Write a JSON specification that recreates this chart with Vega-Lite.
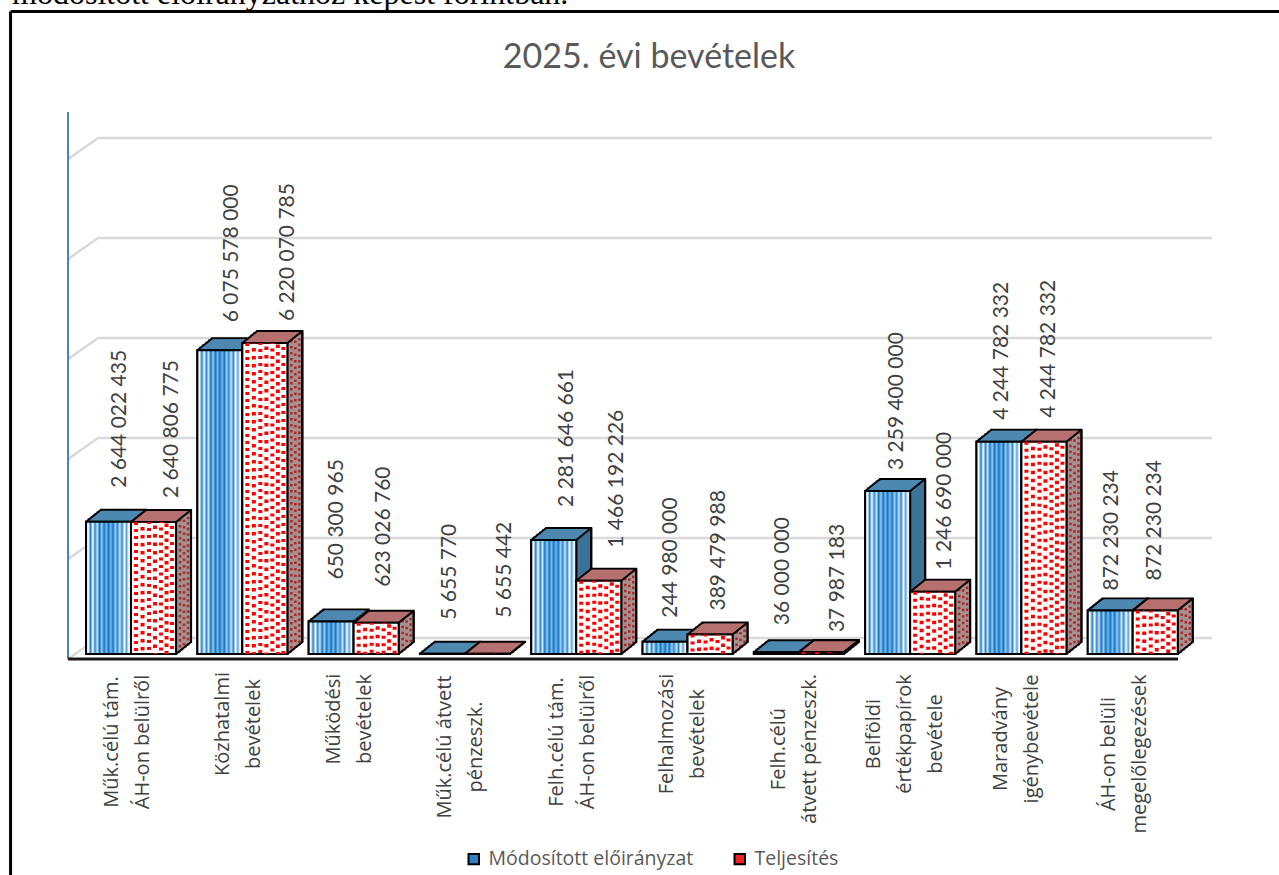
{"$schema":"https://vega.github.io/schema/vega-lite/v6.json","autosize":{"type":"none"},"padding":{"left":68,"top":112,"right":67,"bottom":221},"width":1144,"height":542,"background":"white","config":{"view":{"stroke":null},"legend":{"orient":"none","legendX":396,"legendY":737,"direction":"horizontal","title":null,"symbolType":"square","symbolSize":110,"symbolStrokeColor":"black","symbolStrokeWidth":2,"labelFont":"Open Sans","labelFontSize":19.5,"labelColor":"#595959","labelLimit":400,"columnPadding":36,"labelOffset":5}},
"data":{"values":[
{"k":1,"cat":"Műk.célú tám.|ÁH-on belülről","series":"Módosított előirányzat","value":2644022435,"label":"2 644 022 435"},
{"k":2,"cat":"Közhatalmi|bevételek","series":"Módosított előirányzat","value":6075578000,"label":"6 075 578 000"},
{"k":3,"cat":"Működési|bevételek","series":"Módosított előirányzat","value":650300965,"label":"650 300 965"},
{"k":4,"cat":"Műk.célú átvett|pénzeszk.","series":"Módosított előirányzat","value":5655770,"label":"5 655 770"},
{"k":5,"cat":"Felh.célú tám.|ÁH-on belülről","series":"Módosított előirányzat","value":2281646661,"label":"2 281 646 661"},
{"k":6,"cat":"Felhalmozási|bevételek","series":"Módosított előirányzat","value":244980000,"label":"244 980 000"},
{"k":7,"cat":"Felh.célú|átvett pénzeszk.","series":"Módosított előirányzat","value":36000000,"label":"36 000 000"},
{"k":8,"cat":"Belföldi|értékpapírok|bevétele","series":"Módosított előirányzat","value":3259400000,"label":"3 259 400 000"},
{"k":9,"cat":"Maradvány|igénybevétele","series":"Módosított előirányzat","value":4244782332,"label":"4 244 782 332"},
{"k":10,"cat":"ÁH-on belüli|megelőlegezések","series":"Módosított előirányzat","value":872230234,"label":"872 230 234"},
{"k":1,"cat":"Műk.célú tám.|ÁH-on belülről","series":"Teljesítés","value":2640806775,"label":"2 640 806 775"},
{"k":2,"cat":"Közhatalmi|bevételek","series":"Teljesítés","value":6220070785,"label":"6 220 070 785"},
{"k":3,"cat":"Működési|bevételek","series":"Teljesítés","value":623026760,"label":"623 026 760"},
{"k":4,"cat":"Műk.célú átvett|pénzeszk.","series":"Teljesítés","value":5655442,"label":"5 655 442"},
{"k":5,"cat":"Felh.célú tám.|ÁH-on belülről","series":"Teljesítés","value":1466192226,"label":"1 466 192 226"},
{"k":6,"cat":"Felhalmozási|bevételek","series":"Teljesítés","value":389479988,"label":"389 479 988"},
{"k":7,"cat":"Felh.célú|átvett pénzeszk.","series":"Teljesítés","value":37987183,"label":"37 987 183"},
{"k":8,"cat":"Belföldi|értékpapírok|bevétele","series":"Teljesítés","value":1246690000,"label":"1 246 690 000"},
{"k":9,"cat":"Maradvány|igénybevétele","series":"Teljesítés","value":4244782332,"label":"4 244 782 332"},
{"k":10,"cat":"ÁH-on belüli|megelőlegezések","series":"Teljesítés","value":872230234,"label":"872 230 234"}
]},
"encoding":{"x":{"field":"cat","type":"nominal","axis":null,"scale":{"domain":["Műk.célú tám.|ÁH-on belülről","Közhatalmi|bevételek","Működési|bevételek","Műk.célú átvett|pénzeszk.","Felh.célú tám.|ÁH-on belülről","Felhalmozási|bevételek","Felh.célú|átvett pénzeszk.","Belföldi|értékpapírok|bevétele","Maradvány|igénybevétele","ÁH-on belüli|megelőlegezések"],"range":[7.4,1120.4],"paddingInner":0,"paddingOuter":0}},"y":{"field":"value","type":"quantitative","axis":null,"scale":{"domain":[0,10840000000],"nice":false,"zero":true}}},
"layer":[
{"data":{"values":[{"level":0},{"level":2000000000},{"level":4000000000},{"level":6000000000},{"level":8000000000},{"level":10000000000}]},"layer":[
{"mark":{"type":"rule","stroke":"#d9d9d9","strokeWidth":2.5,"xOffset":-33,"x2Offset":79.3,"yOffset":-16},"encoding":{"x":{"datum":"Műk.célú tám.|ÁH-on belülről"},"x2":{"datum":"ÁH-on belüli|megelőlegezések"},"y":{"field":"level","type":"quantitative"}}},
{"mark":{"type":"rule","stroke":"#d9d9d9","strokeWidth":2.5,"xOffset":-63,"x2Offset":-33,"yOffset":5,"y2Offset":-16},"encoding":{"x":{"datum":"Műk.célú tám.|ÁH-on belülről"},"x2":{"datum":"Műk.célú tám.|ÁH-on belülről"},"y":{"field":"level","type":"quantitative"},"y2":{"field":"level"}}}
]},
{"transform":[{"filter":"datum.k==1 && datum.series=='Teljesítés'"}],"layer":[
{"mark":{"type":"rule","stroke":"#4a7ebb","strokeWidth":2,"xOffset":-63,"y2Offset":5},"encoding":{"y":{"datum":10840000000},"y2":{"datum":0}}},
{"mark":{"type":"rule","stroke":"#1a1a1a","strokeWidth":3,"xOffset":-63,"x2Offset":45.3,"yOffset":5},"encoding":{"x2":{"datum":"ÁH-on belüli|megelőlegezések"},"y":{"datum":0}}},
{"mark":{"type":"rule","stroke":"black","strokeWidth":3,"xOffset":-120.5,"yOffset":-100.5,"y2Offset":221},"encoding":{"y":{"datum":10840000000},"y2":{"datum":0}}},
{"mark":{"type":"rule","stroke":"black","strokeWidth":3,"xOffset":-120.5,"x2Offset":200,"yOffset":-100.5},"encoding":{"x2":{"datum":"ÁH-on belüli|megelőlegezések"},"y":{"datum":10840000000}}},
{"mark":{"type":"text","text":"módosított előirányzathoz képest forintban.","font":"Liberation Serif","fontSize":32,"color":"black","align":"left","baseline":"alphabetic","xOffset":-119,"yOffset":-108},"encoding":{"y":{"datum":10840000000}}},
{"mark":{"type":"text","text":"2025. évi bevételek","font":"Lato","fontSize":34,"color":"#595959","align":"center","baseline":"alphabetic","xOffset":518,"yOffset":-44},"encoding":{"y":{"datum":10840000000}}}
]},
{"transform":[{"filter":"datum.series=='Módosított előirányzat'"}],"layer":[
{"mark":{"type":"bar","width":45,"fill":"#4d88b0","stroke":"black","strokeWidth":2,"xOffset":-7.5,"yOffset":-12,"y2Offset":-12}},
{"mark":{"type":"bar","width":45,"fill":"#4d88b0","stroke":"#4d88b0","strokeWidth":2.6,"xOffset":-10.5,"yOffset":-9.6,"y2Offset":-9.6}},
{"mark":{"type":"bar","width":45,"fill":"#4d88b0","stroke":"#4d88b0","strokeWidth":2.6,"xOffset":-13.5,"yOffset":-7.2,"y2Offset":-7.2}},
{"mark":{"type":"bar","width":45,"fill":"#4d88b0","stroke":"#4d88b0","strokeWidth":2.6,"xOffset":-16.5,"yOffset":-4.8,"y2Offset":-4.8}},
{"mark":{"type":"bar","width":45,"fill":"#4d88b0","stroke":"#4d88b0","strokeWidth":2.6,"xOffset":-19.5,"yOffset":-2.4,"y2Offset":-2.4}},
{"mark":{"type":"rule","stroke":"#3a7397","strokeWidth":3.5,"xOffset":3,"yOffset":-2.4,"y2Offset":-2.4},"encoding":{"y2":{"datum":0}}},
{"mark":{"type":"rule","stroke":"#3a7397","strokeWidth":3.5,"xOffset":6,"yOffset":-4.8,"y2Offset":-4.8},"encoding":{"y2":{"datum":0}}},
{"mark":{"type":"rule","stroke":"#3a7397","strokeWidth":3.5,"xOffset":9,"yOffset":-7.2,"y2Offset":-7.2},"encoding":{"y2":{"datum":0}}},
{"mark":{"type":"rule","stroke":"#3a7397","strokeWidth":3.5,"xOffset":12,"yOffset":-9.6,"y2Offset":-9.6},"encoding":{"y2":{"datum":0}}},
{"mark":{"type":"rule","stroke":"black","strokeWidth":2,"xOffset":15,"yOffset":-12,"y2Offset":-12},"encoding":{"y2":{"datum":0}}},
{"mark":{"type":"bar","width":45,"stroke":"black","strokeWidth":2,"xOffset":-22.5},"encoding":{"color":{"field":"series","type":"nominal","scale":{"domain":["Módosított előirányzat","Teljesítés"],"range":["#2f80c8","#ee2222"]}}}},
{"mark":{"type":"bar","width":45,"stroke":"black","strokeWidth":2,"xOffset":-22.5,"fill":{"gradient":"linear","x1":0,"x2":1,"y1":0,"y2":0,"stops":[{"offset":0,"color":"#d5e8f7"},{"offset":0.05,"color":"#ffffff"},{"offset":0.1,"color":"#1a7fcf"},{"offset":0.15,"color":"#ffffff"},{"offset":0.2,"color":"#2b88d3"},{"offset":0.25,"color":"#cfe5f6"},{"offset":0.3,"color":"#0f75c7"},{"offset":0.35,"color":"#9fccee"},{"offset":0.4,"color":"#0f75c7"},{"offset":0.45,"color":"#7db9e8"},{"offset":0.5,"color":"#0f75c7"},{"offset":0.55,"color":"#7db9e8"},{"offset":0.6,"color":"#0f75c7"},{"offset":0.65,"color":"#9fccee"},{"offset":0.7,"color":"#2b88d3"},{"offset":0.75,"color":"#cfe5f6"},{"offset":0.8,"color":"#2b88d3"},{"offset":0.85,"color":"#ffffff"},{"offset":0.9,"color":"#5aa6e0"},{"offset":0.95,"color":"#ffffff"},{"offset":1,"color":"#a9d2f0"}]}}},
{"mark":{"type":"rule","stroke":"black","strokeWidth":2,"xOffset":-45,"x2Offset":-30,"y2Offset":-12},"encoding":{"x2":{"field":"cat"},"y2":{"field":"value"}}},
{"mark":{"type":"rule","stroke":"black","strokeWidth":2,"xOffset":0,"x2Offset":15,"y2Offset":-12},"encoding":{"x2":{"field":"cat"},"y2":{"field":"value"}}},
{"mark":{"type":"rule","stroke":"black","strokeWidth":2,"xOffset":0,"x2Offset":15,"y2Offset":-12},"encoding":{"x2":{"field":"cat"},"y":{"datum":0},"y2":{"datum":0}}}
]},
{"transform":[{"filter":"datum.series=='Teljesítés'"}],"layer":[
{"mark":{"type":"bar","width":45,"fill":"#b5706f","stroke":"black","strokeWidth":2,"xOffset":37.5,"yOffset":-12,"y2Offset":-12}},
{"mark":{"type":"bar","width":45,"fill":"#b5706f","stroke":"#b5706f","strokeWidth":2.6,"xOffset":34.5,"yOffset":-9.6,"y2Offset":-9.6}},
{"mark":{"type":"bar","width":45,"fill":"#b5706f","stroke":"#b5706f","strokeWidth":2.6,"xOffset":31.5,"yOffset":-7.2,"y2Offset":-7.2}},
{"mark":{"type":"bar","width":45,"fill":"#b5706f","stroke":"#b5706f","strokeWidth":2.6,"xOffset":28.5,"yOffset":-4.8,"y2Offset":-4.8}},
{"mark":{"type":"bar","width":45,"fill":"#b5706f","stroke":"#b5706f","strokeWidth":2.6,"xOffset":25.5,"yOffset":-2.4,"y2Offset":-2.4}},
{"mark":{"type":"rule","stroke":"#a89090","strokeWidth":3.5,"xOffset":48,"yOffset":-2.4,"y2Offset":-2.4},"encoding":{"y2":{"datum":0}}},
{"mark":{"type":"rule","stroke":"#a89090","strokeWidth":3.5,"xOffset":51,"yOffset":-4.8,"y2Offset":-4.8},"encoding":{"y2":{"datum":0}}},
{"mark":{"type":"rule","stroke":"#a89090","strokeWidth":3.5,"xOffset":54,"yOffset":-7.2,"y2Offset":-7.2},"encoding":{"y2":{"datum":0}}},
{"mark":{"type":"rule","stroke":"#a89090","strokeWidth":3.5,"xOffset":57,"yOffset":-9.6,"y2Offset":-9.6},"encoding":{"y2":{"datum":0}}},
{"mark":{"type":"rule","stroke":"#a52a2a","strokeWidth":2.5,"strokeDash":[2.5,3.5],"xOffset":49,"yOffset":-3,"y2Offset":-3},"encoding":{"y2":{"datum":0}}},
{"mark":{"type":"rule","stroke":"#a52a2a","strokeWidth":2.5,"strokeDash":[2.5,4],"strokeDashOffset":3,"xOffset":53,"yOffset":-6,"y2Offset":-6},"encoding":{"y2":{"datum":0}}},
{"mark":{"type":"rule","stroke":"#a52a2a","strokeWidth":2.5,"strokeDash":[2.5,3],"strokeDashOffset":1,"xOffset":57,"yOffset":-9.6,"y2Offset":-9.6},"encoding":{"y2":{"datum":0}}},
{"mark":{"type":"rule","stroke":"black","strokeWidth":2,"xOffset":60,"yOffset":-12,"y2Offset":-12},"encoding":{"y2":{"datum":0}}},
{"mark":{"type":"bar","width":45,"stroke":"black","strokeWidth":2,"xOffset":22.5},"encoding":{"color":{"field":"series","type":"nominal"}}},
{"mark":{"type":"bar","width":45,"fill":"white","stroke":"black","strokeWidth":2,"xOffset":22.5}},
{"mark":{"type":"rule","stroke":"#ff0000","strokeWidth":4,"strokeDash":[3,4],"xOffset":5},"encoding":{"y2":{"datum":0}}},
{"mark":{"type":"rule","stroke":"#ff0000","strokeWidth":4,"strokeDash":[3.5,4.5],"strokeDashOffset":3,"xOffset":11.5},"encoding":{"y2":{"datum":0}}},
{"mark":{"type":"rule","stroke":"#ff0000","strokeWidth":4,"strokeDash":[3,4],"strokeDashOffset":1,"xOffset":18},"encoding":{"y2":{"datum":0}}},
{"mark":{"type":"rule","stroke":"#ff0000","strokeWidth":4,"strokeDash":[3.5,5],"strokeDashOffset":5,"xOffset":24},"encoding":{"y2":{"datum":0}}},
{"mark":{"type":"rule","stroke":"#ff0000","strokeWidth":4,"strokeDash":[3,4.5],"strokeDashOffset":2,"xOffset":30},"encoding":{"y2":{"datum":0}}},
{"mark":{"type":"rule","stroke":"#ff0000","strokeWidth":4,"strokeDash":[3.5,4],"strokeDashOffset":6,"xOffset":35.5},"encoding":{"y2":{"datum":0}}},
{"mark":{"type":"rule","stroke":"#ff0000","strokeWidth":4,"strokeDash":[3,5],"strokeDashOffset":4,"xOffset":41},"encoding":{"y2":{"datum":0}}},
{"mark":{"type":"rule","stroke":"black","strokeWidth":2,"xOffset":0,"x2Offset":15,"y2Offset":-12},"encoding":{"x2":{"field":"cat"},"y2":{"field":"value"}}},
{"mark":{"type":"rule","stroke":"black","strokeWidth":2,"xOffset":45,"x2Offset":60,"y2Offset":-12},"encoding":{"x2":{"field":"cat"},"y2":{"field":"value"}}},
{"mark":{"type":"rule","stroke":"black","strokeWidth":2,"xOffset":45,"x2Offset":60,"y2Offset":-12},"encoding":{"x2":{"field":"cat"},"y":{"datum":0},"y2":{"datum":0}}}
]},
{"transform":[{"filter":"datum.series=='Módosított előirányzat'"}],"layer":[
{"transform":[{"filter":"datum.k==1"}],"mark":{"type":"text","angle":270,"align":"left","baseline":"middle","font":"Lato","fontSize":21,"color":"#404040","xOffset":-11,"yOffset":-34},"encoding":{"text":{"field":"label"}}},
{"transform":[{"filter":"datum.k==2"}],"mark":{"type":"text","angle":270,"align":"left","baseline":"middle","font":"Lato","fontSize":21,"color":"#404040","xOffset":-10,"yOffset":-28},"encoding":{"text":{"field":"label"}}},
{"transform":[{"filter":"datum.k==3"}],"mark":{"type":"text","angle":270,"align":"left","baseline":"middle","font":"Lato","fontSize":21,"color":"#404040","xOffset":-17,"yOffset":-42},"encoding":{"text":{"field":"label"}}},
{"transform":[{"filter":"datum.k==4"}],"mark":{"type":"text","angle":270,"align":"left","baseline":"middle","font":"Lato","fontSize":21,"color":"#404040","xOffset":-15,"yOffset":-34},"encoding":{"text":{"field":"label"}}},
{"transform":[{"filter":"datum.k==5"}],"mark":{"type":"text","angle":270,"align":"left","baseline":"middle","font":"Lato","fontSize":21,"color":"#404040","xOffset":-9,"yOffset":-33},"encoding":{"text":{"field":"label"}}},
{"transform":[{"filter":"datum.k==6"}],"mark":{"type":"text","angle":270,"align":"left","baseline":"middle","font":"Lato","fontSize":21,"color":"#404040","xOffset":-17,"yOffset":-24},"encoding":{"text":{"field":"label"}}},
{"transform":[{"filter":"datum.k==7"}],"mark":{"type":"text","angle":270,"align":"left","baseline":"middle","font":"Lato","fontSize":21,"color":"#404040","xOffset":-16,"yOffset":-27},"encoding":{"text":{"field":"label"}}},
{"transform":[{"filter":"datum.k==8"}],"mark":{"type":"text","angle":270,"align":"left","baseline":"middle","font":"Lato","fontSize":21,"color":"#404040","xOffset":-13,"yOffset":-21},"encoding":{"text":{"field":"label"}}},
{"transform":[{"filter":"datum.k==9"}],"mark":{"type":"text","angle":270,"align":"left","baseline":"middle","font":"Lato","fontSize":21,"color":"#404040","xOffset":-19,"yOffset":-22},"encoding":{"text":{"field":"label"}}},
{"transform":[{"filter":"datum.k==10"}],"mark":{"type":"text","angle":270,"align":"left","baseline":"middle","font":"Lato","fontSize":21,"color":"#404040","xOffset":-21,"yOffset":-20},"encoding":{"text":{"field":"label"}}}
]},
{"transform":[{"filter":"datum.series=='Teljesítés'"}],"layer":[
{"transform":[{"filter":"datum.k==1"}],"mark":{"type":"text","angle":270,"align":"left","baseline":"middle","font":"Lato","fontSize":21,"color":"#404040","xOffset":41,"yOffset":-24},"encoding":{"text":{"field":"label"}}},
{"transform":[{"filter":"datum.k==2"}],"mark":{"type":"text","angle":270,"align":"left","baseline":"middle","font":"Lato","fontSize":21,"color":"#404040","xOffset":46,"yOffset":-22},"encoding":{"text":{"field":"label"}}},
{"transform":[{"filter":"datum.k==3"}],"mark":{"type":"text","angle":270,"align":"left","baseline":"middle","font":"Lato","fontSize":21,"color":"#404040","xOffset":30,"yOffset":-36},"encoding":{"text":{"field":"label"}}},
{"transform":[{"filter":"datum.k==4"}],"mark":{"type":"text","angle":270,"align":"left","baseline":"middle","font":"Lato","fontSize":21,"color":"#404040","xOffset":40,"yOffset":-36},"encoding":{"text":{"field":"label"}}},
{"transform":[{"filter":"datum.k==5"}],"mark":{"type":"text","angle":270,"align":"left","baseline":"middle","font":"Lato","fontSize":21,"color":"#404040","xOffset":41,"yOffset":-33},"encoding":{"text":{"field":"label"}}},
{"transform":[{"filter":"datum.k==6"}],"mark":{"type":"text","angle":270,"align":"left","baseline":"middle","font":"Lato","fontSize":21,"color":"#404040","xOffset":31,"yOffset":-24},"encoding":{"text":{"field":"label"}}},
{"transform":[{"filter":"datum.k==7"}],"mark":{"type":"text","angle":270,"align":"left","baseline":"middle","font":"Lato","fontSize":21,"color":"#404040","xOffset":39,"yOffset":-20},"encoding":{"text":{"field":"label"}}},
{"transform":[{"filter":"datum.k==8"}],"mark":{"type":"text","angle":270,"align":"left","baseline":"middle","font":"Lato","fontSize":21,"color":"#404040","xOffset":35,"yOffset":-22},"encoding":{"text":{"field":"label"}}},
{"transform":[{"filter":"datum.k==9"}],"mark":{"type":"text","angle":270,"align":"left","baseline":"middle","font":"Lato","fontSize":21,"color":"#404040","xOffset":28,"yOffset":-24},"encoding":{"text":{"field":"label"}}},
{"transform":[{"filter":"datum.k==10"}],"mark":{"type":"text","angle":270,"align":"left","baseline":"middle","font":"Lato","fontSize":21,"color":"#404040","xOffset":22,"yOffset":-30},"encoding":{"text":{"field":"label"}}},
{"transform":[{"filter":"datum.k==1"}],"mark":{"type":"text","angle":270,"align":"center","baseline":"middle","lineBreak":"|","lineHeight":31,"font":"Open Sans","fontSize":20,"color":"#404040","xOffset":-19,"yOffset":88},"encoding":{"text":{"field":"cat"},"y":{"datum":0}}},
{"transform":[{"filter":"datum.k==2"}],"mark":{"type":"text","angle":270,"align":"center","baseline":"middle","lineBreak":"|","lineHeight":31,"font":"Open Sans","fontSize":20,"color":"#404040","xOffset":-19,"yOffset":70},"encoding":{"text":{"field":"cat"},"y":{"datum":0}}},
{"transform":[{"filter":"datum.k==3"}],"mark":{"type":"text","angle":270,"align":"center","baseline":"middle","lineBreak":"|","lineHeight":31,"font":"Open Sans","fontSize":20,"color":"#404040","xOffset":-19.6,"yOffset":65},"encoding":{"text":{"field":"cat"},"y":{"datum":0}}},
{"transform":[{"filter":"datum.k==4"}],"mark":{"type":"text","angle":270,"align":"center","baseline":"middle","lineBreak":"|","lineHeight":31,"font":"Open Sans","fontSize":20,"color":"#404040","xOffset":-20,"yOffset":93},"encoding":{"text":{"field":"cat"},"y":{"datum":0}}},
{"transform":[{"filter":"datum.k==5"}],"mark":{"type":"text","angle":270,"align":"center","baseline":"middle","lineBreak":"|","lineHeight":31,"font":"Open Sans","fontSize":20,"color":"#404040","xOffset":-19,"yOffset":88},"encoding":{"text":{"field":"cat"},"y":{"datum":0}}},
{"transform":[{"filter":"datum.k==6"}],"mark":{"type":"text","angle":270,"align":"center","baseline":"middle","lineBreak":"|","lineHeight":31,"font":"Open Sans","fontSize":20,"color":"#404040","xOffset":-20.5,"yOffset":80},"encoding":{"text":{"field":"cat"},"y":{"datum":0}}},
{"transform":[{"filter":"datum.k==7"}],"mark":{"type":"text","angle":270,"align":"center","baseline":"middle","lineBreak":"|","lineHeight":31,"font":"Open Sans","fontSize":20,"color":"#404040","xOffset":-20,"yOffset":95},"encoding":{"text":{"field":"cat"},"y":{"datum":0}}},
{"transform":[{"filter":"datum.k==8"}],"mark":{"type":"text","angle":270,"align":"center","baseline":"middle","lineBreak":"|","lineHeight":31,"font":"Open Sans","fontSize":20,"color":"#404040","xOffset":-36,"yOffset":80},"encoding":{"text":{"field":"cat"},"y":{"datum":0}}},
{"transform":[{"filter":"datum.k==9"}],"mark":{"type":"text","angle":270,"align":"center","baseline":"middle","lineBreak":"|","lineHeight":31,"font":"Open Sans","fontSize":20,"color":"#404040","xOffset":-20,"yOffset":85},"encoding":{"text":{"field":"cat"},"y":{"datum":0}}},
{"transform":[{"filter":"datum.k==10"}],"mark":{"type":"text","angle":270,"align":"center","baseline":"middle","lineBreak":"|","lineHeight":31,"font":"Open Sans","fontSize":20,"color":"#404040","xOffset":-24,"yOffset":100},"encoding":{"text":{"field":"cat"},"y":{"datum":0}}}
]}
]}
